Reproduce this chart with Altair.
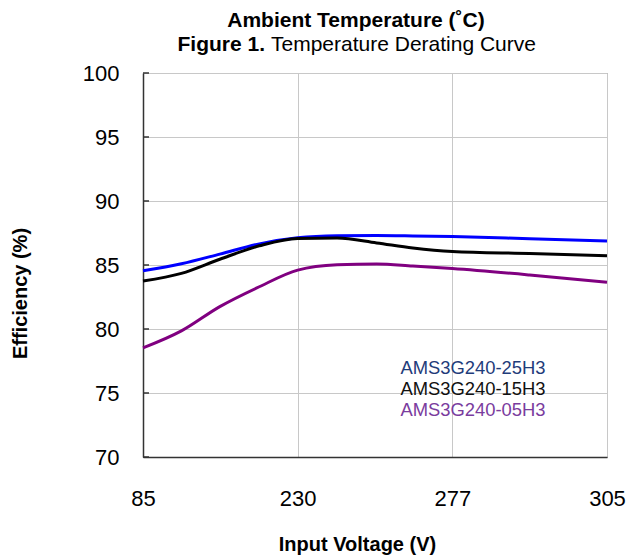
import altair as alt
import pandas as pd

# ---- data ----
VOLTAGE = [85, 121, 157, 194, 230, 242, 254, 265, 277, 291, 305]
EFF_25H3 = [84.55, 85.1, 85.85, 86.65, 87.12, 87.28, 87.3, 87.27, 87.22, 87.05, 86.87]
EFF_15H3 = [83.75, 84.35, 85.45, 86.5, 87.08, 87.1, 86.72, 86.33, 86.06, 85.9, 85.72]
EFF_05H3 = [78.52, 79.85, 81.75, 83.3, 84.6, 85.02, 85.08, 84.92, 84.72, 84.22, 83.65]
SERIES = ["AMS3G240-25H3", "AMS3G240-15H3", "AMS3G240-05H3"]
LINE_COLORS = ["#0000ff", "#000000", "#800080"]
LABEL_COLORS = ["#1f3c7a", "#111111", "#7a3c9e"]
X_TICKS = [85, 230, 277, 305]
Y_TICKS = [70, 75, 80, 85, 90, 95, 100]
TITLE_1 = "Ambient Temperature (˚C)"
TITLE_2_BOLD = "Figure 1."
TITLE_2_REST = "Temperature Derating Curve"
X_TITLE = "Input Voltage (V)"
Y_TITLE = "Efficiency (%)"

rows = []
for name, vals in zip(SERIES, [EFF_25H3, EFF_15H3, EFF_05H3]):
    for v, e in zip(VOLTAGE, vals):
        rows.append({"series": name, "voltage": v, "eff": e})
df = pd.DataFrame(rows)

a, b, c, d = X_TICKS
pos_expr = (
    f"datum.voltage <= {b} ? (datum.voltage - {a}) / {b - a} : "
    f"datum.voltage <= {c} ? 1 + (datum.voltage - {b}) / {c - b} : "
    f"2 + (datum.voltage - {c}) / {d - c}"
)
label_expr = "[" + ",".join(f"'{t}'" for t in X_TICKS) + "][datum.value]"
label_color_expr = (
    f"datum.label == '{SERIES[0]}' ? '{LABEL_COLORS[0]}' : "
    f"datum.label == '{SERIES[1]}' ? '{LABEL_COLORS[1]}' : '{LABEL_COLORS[2]}'"
)

FONT = "Liberation Sans, Arial, sans-serif"

lines = (
    alt.Chart(df)
    .transform_calculate(pos=pos_expr)
    .mark_line(strokeWidth=3, interpolate="monotone")
    .encode(
        x=alt.X(
            "pos:Q",
            scale=alt.Scale(domain=[0, 3], nice=False, zero=False),
            axis=alt.Axis(
                values=[0, 1, 2, 3],
                labelExpr=label_expr,
                labelFlush=False,
                title=X_TITLE,
                titleX=214,
                titleY=87,
                titleAlign="center",
                titleBaseline="middle",
                labelPadding=31,
            ),
        ),
        y=alt.Y(
            "eff:Q",
            scale=alt.Scale(domain=[70, 100], nice=False, zero=False),
            axis=alt.Axis(
                values=Y_TICKS,
                title=Y_TITLE,
                titleX=-123,
                titleY=220,
                titleAngle=270,
                titleAlign="center",
                titleBaseline="middle",
                labelPadding=24,
            ),
        ),
        color=alt.Color(
            "series:N",
            scale=alt.Scale(domain=SERIES, range=LINE_COLORS),
            legend=alt.Legend(
                orient="none",
                legendX=239,
                legendY=286,
                title=None,
                symbolOpacity=0,
                symbolSize=0,
                symbolStrokeWidth=0,
                labelOffset=0,
                labelFont=FONT,
                labelFontSize=18.4,
                labelColor={"expr": label_color_expr},
                labelLimit=300,
                rowPadding=2,
                padding=0,
            ),
        ),
    )
)

inner_ticks = (
    alt.Chart(pd.DataFrame({"tick": Y_TICKS}))
    .mark_rule(color="#333333", strokeWidth=1.5)
    .encode(y="tick:Q", x=alt.value(0), x2=alt.value(6))
)

t1 = (
    alt.Chart(pd.DataFrame({"t": [TITLE_1]}))
    .mark_text(font=FONT, fontSize=21, fontWeight="bold", align="center", baseline="middle", color="#000")
    .encode(text="t:N", x=alt.value(213), y=alt.value(-52))
)
t2a = (
    alt.Chart(pd.DataFrame({"t": [TITLE_2_BOLD]}))
    .mark_text(font=FONT, fontSize=21, fontWeight="bold", align="right", baseline="middle", color="#000")
    .encode(text="t:N", x=alt.value(122), y=alt.value(-28))
)
t2b = (
    alt.Chart(pd.DataFrame({"t": [TITLE_2_REST]}))
    .mark_text(font=FONT, fontSize=21, align="left", baseline="middle", color="#000")
    .encode(text="t:N", x=alt.value(128), y=alt.value(-28))
)

chart = (
    alt.layer(inner_ticks, lines, t1, t2a, t2b)
    .properties(
        width=464,
        height=384,
        autosize=alt.AutoSizeParams(type="none"),
        padding={"left": 135, "top": 65, "right": 19, "bottom": 100},
        background="white",
    )
    .configure_view(stroke="#8a8a8a", strokeWidth=1)
    .configure_axis(
        grid=True,
        gridColor="#c8c8c8",
        gridWidth=1,
        domainColor="#333333",
        domainWidth=1.5,
        ticks=False,
        labelFont=FONT,
        labelFontSize=22,
        labelColor="#000",
        titleFont=FONT,
        titleFontSize=20,
        titleFontWeight="bold",
        titleColor="#000",
    )
)

chart.save("out.html", embed_options={"renderer": "svg", "actions": False})
